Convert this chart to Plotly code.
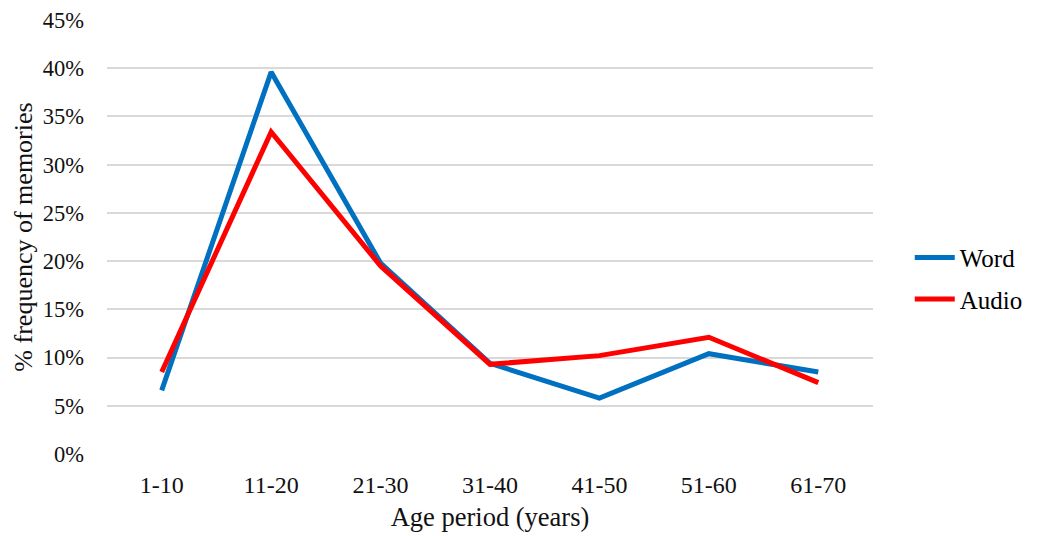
import plotly.graph_objects as go

categories = ["1-10", "11-20", "21-30", "31-40", "41-50", "51-60", "61-70"]
word = [6.6, 39.6, 19.8, 9.4, 5.8, 10.4, 8.5]
audio = [8.5, 33.4, 19.5, 9.3, 10.2, 12.1, 7.4]
y_ticks = [0, 5, 10, 15, 20, 25, 30, 35, 40, 45]
y_tick_labels = [f"{v}%" for v in y_ticks]

font_family = "Liberation Serif, 'Times New Roman', serif"
txt = "#111111"

fig = go.Figure()
fig.add_trace(go.Scatter(x=categories, y=word, mode="lines", name="Word",
                         legendgroup="w",
                         line=dict(color="#0070C0", width=5)))
fig.add_trace(go.Scatter(x=categories, y=audio, mode="lines", name="Audio",
                         legendgroup="a",
                         line=dict(color="#FF0000", width=5)))

fig.update_layout(
    width=1037, height=536,
    margin=dict(l=107, r=164, t=20, b=82, autoexpand=False),
    paper_bgcolor="white", plot_bgcolor="white",
    font=dict(family=font_family, size=23, color=txt),
    legend=dict(x=1.048, y=0.405, xanchor="left", yanchor="middle",
                font=dict(family=font_family, size=25, color="#000000"), tracegroupgap=6,
                itemwidth=40, bgcolor="rgba(0,0,0,0)"),
    showlegend=True,
)
fig.update_xaxes(
    type="category", range=[-0.5, 6.5], showgrid=False, showline=False, automargin=False,
    ticks="", ticklabelstandoff=14, tickfont=dict(family=font_family, size=24, color=txt),
    title=dict(text="Age period (years)", font=dict(family=font_family, size=26.5, color=txt), standoff=10),
)
fig.update_yaxes(
    range=[0, 45], tickvals=y_ticks, ticktext=y_tick_labels, automargin=False,
    showgrid=True, gridcolor="#d9d9d9", gridwidth=1.5, zeroline=False,
    showline=False, ticks="", ticklabelstandoff=22,
    tickfont=dict(family=font_family, size=22.5, color=txt),
    title=dict(text="% frequency of memories", font=dict(family=font_family, size=26, color=txt), standoff=2),
)

fig.write_html("out.html")
